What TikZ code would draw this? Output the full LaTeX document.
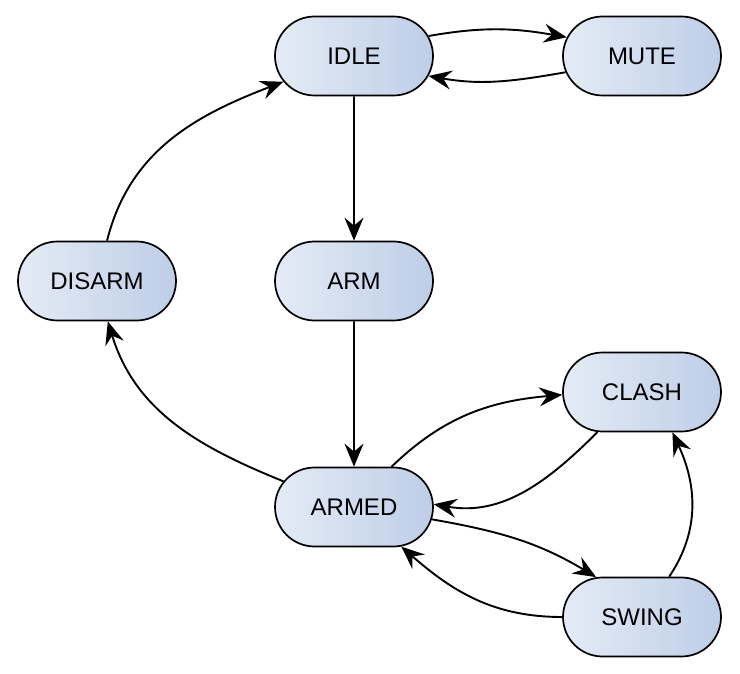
\documentclass[tikz,border=0pt]{standalone}
\usepackage{fontspec}
\setmainfont{Liberation Sans}
\usetikzlibrary{shapes.misc,arrows.meta}
\definecolor{stateleft}{RGB}{228,235,246}
\definecolor{stateright}{RGB}{190,206,231}

\begin{document}
\begin{tikzpicture}[x=1pt, y=1pt,
    state/.style={rounded rectangle, draw, line width=1.7pt, left color=stateleft, right color=stateright,
        minimum width=158pt, minimum height=79pt, inner sep=0pt, font=\fontsize{24}{28}\selectfont},
    trans/.style={-{Stealth[length=23pt,width=19pt,inset=8pt]}, line width=1.9pt}]
    \useasboundingbox (0,0) rectangle (740,-674);

    % states
    \node[state] (idle) at (354,-56) {IDLE};
    \node[state] (mute) at (642,-56) {MUTE};
    \node[state] (disarm) at (97,-281) {DISARM};
    \node[state] (arm) at (354,-281) {ARM};
    \node[state] (clash) at (642,-392) {CLASH};
    \node[state] (armed) at (354,-507) {ARMED};
    \node[state] (swing) at (642,-617) {SWING};

    % transitions
    \draw[trans] (idle.15) to[out=10, in=170] (mute.166);
    \draw[trans] (mute.192) to[out=190, in=-10] (idle.-15);
    \draw[trans] (idle) -- (arm);
    \draw[trans] (arm) -- (armed);
    \draw[trans] (disarm.76) to[out=76, in=201] (idle.200);
    \draw[trans] (armed.160) to[out=158, in=-73] (disarm.-75);
    \draw[trans] (armed.47) to[out=44, in=185] (clash.182);
    \draw[trans] (clash.222) to[out=225, in=-10] (armed.2);
    \draw[trans] (armed.-9) to[out=-10, in=149] (swing.139);
    \draw[trans] (swing.180) to[out=180, in=-41] (armed.-40);
    \draw[trans] (swing.56) to[out=56, in=-65] (clash.-53);
\end{tikzpicture}
\end{document}
